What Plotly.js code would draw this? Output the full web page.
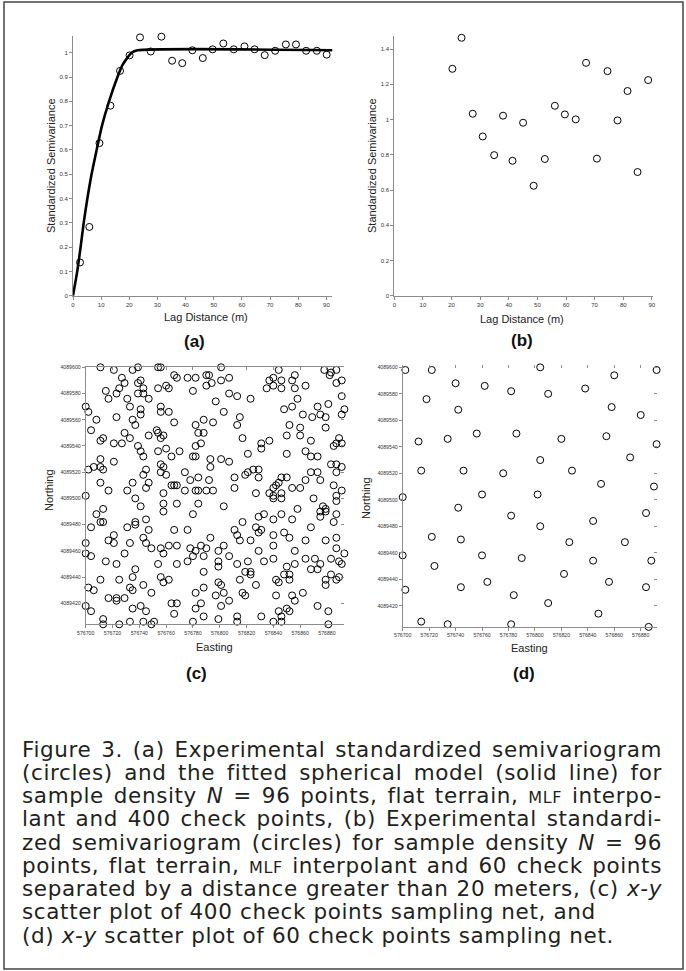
<!DOCTYPE html>
<html><head><meta charset="utf-8">
<script src="https://cdn.plot.ly/plotly-3.0.1.min.js"></script>
<style>html,body{margin:0;padding:0;background:#fff}#chart{width:686px;height:971px}</style>
</head><body><div id="chart"></div>
<script>
// ---------- data ----------
const lagA = [2.5,5.8,9.4,13.3,16.7,20.1,23.8,27.6,31.4,35.2,38.8,42.4,46.1,49.6,53.4,57.1,60.9,64.5,68.1,71.8,75.6,79.2,82.8,86.6,90.1];
const gammaA = [0.137,0.283,0.628,0.782,0.925,0.989,1.063,1.005,1.066,0.967,0.957,1.010,0.978,1.014,1.038,1.014,1.026,1.014,0.990,1.008,1.034,1.034,1.008,1.008,0.992];
const modelLag = [0,1.5,2.7,3.8,5.1,6.6,8.4,10.3,12.8,15.8,17.6,20.8,22.9,92.3];
const modelGamma = [0,0.1,0.2,0.3,0.4,0.5,0.6,0.7,0.8,0.9,0.95,1.0,1.01,1.01];
const lagB = [20.3,23.5,27.4,30.9,34.9,38.0,41.3,45.0,48.7,52.6,56.1,59.6,63.4,67.0,70.8,74.5,78.0,81.5,85.0,88.7];
const gammaB = [1.288,1.464,1.033,0.904,0.798,1.022,0.766,0.982,0.624,0.776,1.078,1.029,1.001,1.322,0.778,1.275,0.995,1.162,0.702,1.224];
const eastingC = [576711,576721,576735,576739,576754,576756,576766,576768,576776,576782,576790,576792,576727,576729,576725,576715,576717,576723,576731,576741,576739,576743,576739,576743,576747,576754,576760,576762,576780,576790,576794,576700,576702,576733,576741,576741,576756,576756,576762,576723,576708,576735,576737,576766,576782,576788,576704,576729,576733,576747,576753,576754,576756,576758,576784,576788,576711,576713,576721,576727,576739,576741,576743,576754,576760,576770,576764,576780,576782,576786,576782,576793,576711,576721,576702,576706,576711,576713,576745,576743,576756,576758,576756,576760,576774,576778,576784,576792,576793,576711,576735,576747,576745,576764,576766,576768,576717,576731,576774,576782,576784,576790,
576801,576844,576878,576882,576883,576887,576837,576840,576846,576854,576856,576840,576846,576835,576856,576864,576887,576891,576801,576807,576807,576813,576823,576858,576854,576848,576797,576803,576873,576881,576891,576893,576891,576862,576869,576875,576879,576795,576813,576815,576852,576860,576879,576860,576850,576868,576889,576887,576885,576891,576817,576831,576837,576831,576821,576850,576864,576868,576873,576801,576807,576883,576887,576891,576868,576873,576875,576887,576819,576821,576825,576829,576829,576811,576846,576850,576844,576864,576885,576795,576811,576840,576842,576854,576860,576891,
576700,576737,576741,576758,576758,576758,576768,576784,576780,576713,576708,576711,576713,576704,576731,576737,576737,576745,576747,576700,576700,576704,576717,576721,576721,576733,576743,576745,576749,576729,576756,576758,576762,576768,576766,576776,576778,576782,576786,576790,576788,576793,576715,576723,576754,576768,576776,576780,576737,576711,576725,576735,576756,576758,576762,576743,576733,576735,576749,576788,576788,576782,576702,576706,576717,576723,576723,576729,576741,576745,576735,576764,576768,576766,576782,576786,576788,576700,576704,576713,576713,576725,576733,576743,576749,576751,576780,
576827,576837,576840,576840,576846,576846,576870,576887,576887,576803,576829,576833,576840,576846,576854,576858,576877,576875,576879,576879,576875,576887,576885,576817,576868,576811,576813,576815,576827,576829,576831,576823,576840,576848,576852,576840,576864,576803,576799,576807,576799,576799,576813,576821,576833,576829,576840,576856,576856,576850,576848,576852,576852,576842,576844,576864,576871,576875,576868,576873,576879,576887,576887,576883,576889,576891,576893,576883,576879,576879,576887,576889,576819,576823,576823,576815,576827,576799,576801,576803,576807,576797,576801,576817,576819,576842,576854,576856,576862,576850,576852,576844,576873,576881,576799,576813,576813,576831,576840,576846,576846,576881];
const northingC = [4089600,4089598,4089598,4089600,4089600,4089600,4089594,4089592,4089592,4089592,4089594,4089594,4089592,4089588,4089584,4089582,4089576,4089580,4089576,4089590,4089588,4089584,4089580,4089580,4089576,4089584,4089586,4089584,4089582,4089586,4089588,4089570,4089566,4089570,4089568,4089564,4089570,4089566,4089566,4089562,4089560,4089560,4089556,4089558,4089556,4089560,4089552,4089550,4089546,4089548,4089552,4089550,4089546,4089548,4089550,4089550,4089544,4089546,4089542,4089542,4089540,4089536,4089532,4089536,4089538,4089536,4089532,4089532,4089532,4089542,4089540,4089530,4089530,4089528,4089522,4089524,4089524,4089522,4089522,4089518,4089526,4089524,4089520,4089518,4089520,4089514,4089516,4089514,4089524,4089512,4089512,4089512,4089508,4089510,4089510,4089510,4089506,4089506,4089506,4089506,4089506,4089506,
4089600,4089598,4089598,4089594,4089596,4089598,4089590,4089592,4089590,4089590,4089594,4089586,4089584,4089584,4089584,4089586,4089588,4089590,4089590,4089592,4089580,4089578,4089576,4089576,4089570,4089568,4089574,4089566,4089570,4089572,4089578,4089568,4089564,4089564,4089562,4089564,4089562,4089558,4089556,4089562,4089556,4089554,4089554,4089548,4089548,4089544,4089546,4089542,4089540,4089542,4089546,4089542,4089544,4089538,4089534,4089534,4089536,4089532,4089532,4089530,4089528,4089526,4089526,4089524,4089520,4089520,4089514,4089520,4089518,4089520,4089522,4089522,4089516,4089516,4089516,4089516,4089512,4089514,4089510,4089506,4089508,4089508,4089510,4089508,4089508,4089506,
4089502,4089500,4089494,4089504,4089496,4089490,4089496,4089496,4089488,4089492,4089488,4089482,4089482,4089478,4089478,4089482,4089480,4089484,4089476,4089466,4089458,4089456,4089468,4089472,4089466,4089466,4089470,4089466,4089462,4089458,4089462,4089458,4089464,4089464,4089476,4089476,4089462,4089460,4089464,4089462,4089456,4089470,4089452,4089450,4089450,4089450,4089452,4089456,4089446,4089438,4089438,4089440,4089440,4089436,4089438,4089434,4089432,4089430,4089428,4089444,4089432,4089428,4089432,4089430,4089424,4089424,4089422,4089424,4089418,4089414,4089416,4089420,4089420,4089412,4089416,4089420,4089410,4089418,4089414,4089408,4089404,4089404,4089406,4089406,4089404,4089406,4089406,
4089504,4089504,4089502,4089500,4089504,4089500,4089500,4089502,4089498,4089494,4089486,4089488,4089484,4089488,4089484,4089492,4089494,4089490,4089492,4089490,4089486,4089488,4089482,4089482,4089478,4089476,4089472,4089468,4089478,4089474,4089476,4089468,4089472,4089474,4089470,4089464,4089468,4089464,4089460,4089456,4089452,4089448,4089450,4089452,4089452,4089460,4089454,4089460,4089450,4089448,4089442,4089442,4089438,4089438,4089436,4089454,4089454,4089450,4089446,4089446,4089468,4089470,4089462,4089454,4089452,4089450,4089458,4089442,4089438,4089434,4089438,4089440,4089444,4089444,4089442,4089438,4089434,4089436,4089434,4089428,4089422,4089426,4089418,4089428,4089426,4089426,4089426,4089422,4089428,4089416,4089414,4089414,4089418,4089414,4089408,4089410,4089406,4089410,4089406,4089410,4089406,4089404];
const eastingD = [576702,576722,576804,576892,576740,576762,576782,576810,576838,576860,576718,576742,576858,576880,576712,576734,576756,576786,576820,576854,576892,576804,576872,576714,576746,576776,576828,576850,576890,576700,576760,576802,576742,576782,576844,576884,576804,576722,576744,576826,576868,576700,576760,576790,576844,576888,576724,576822,576702,576744,576764,576856,576884,576784,576810,576848,576714,576734,576782,576886];
const northingD = [4089598,4089598,4089600,4089598,4089588,4089586,4089582,4089580,4089584,4089594,4089576,4089568,4089570,4089564,4089544,4089546,4089550,4089550,4089546,4089548,4089542,4089530,4089532,4089522,4089522,4089520,4089522,4089512,4089510,4089502,4089504,4089504,4089494,4089488,4089484,4089490,4089480,4089472,4089470,4089468,4089468,4089458,4089458,4089456,4089454,4089454,4089450,4089444,4089432,4089434,4089438,4089438,4089434,4089428,4089422,4089414,4089408,4089406,4089406,4089404];
const lagTicks = [0,10,20,30,40,50,60,70,80,90];
const gammaTicksA = [0,0.1,0.2,0.3,0.4,0.5,0.6,0.7,0.8,0.9,1];
const gammaLabelsA = ['0','0.1','0.2','0.3','0.4','0.5','0.6','0.7','0.8','0.9','1'];
const gammaTicksB = [0,0.2,0.4,0.6,0.8,1,1.2,1.4];
const gammaLabelsB = ['0','0.2','0.4','0.6','0.8','1','1.2','1.4'];
const eastTicks = [576700,576720,576740,576760,576780,576800,576820,576840,576860,576880];
const northTicks = [4089420,4089440,4089460,4089480,4089500,4089520,4089540,4089560,4089580,4089600];
const captionLines = [
 "Figure 3. (a) Experimental standardized semivariogram",
 "(circles) and the fitted spherical model (solid line) for",
 "sample density <i>N</i> = 96 points, flat terrain, <span style='font-size:16px'>MLF</span> interpo-",
 "lant and 400 check points, (b) Experimental standardi-",
 "zed semivariogram (circles) for sample density <i>N</i> = 96",
 "points, flat terrain, <span style='font-size:16px'>MLF</span> interpolant and 60 check points",
 "separated by a distance greater than 20 meters, (c) <i>x-y</i>",
 "scatter plot of 400 check points sampling net, and",
 "(d) <i>x-y</i> scatter plot of 60 check points sampling net."
];

// ---------- layout helpers ----------
const W = 686, H = 971;
const fx = p => p / W, fy = p => 1 - p / H;
const F = 'Liberation Sans, Arial, sans-serif';
const FC = 'DejaVu Sans, sans-serif';
const GREY = '#8c8c8c';
const mk = {symbol:'circle-open', size:7, color:'#000', line:{width:1, color:'#000'}};
const base = {showline:true, linecolor:GREY, linewidth:1, ticks:'outside', ticklen:3, tickwidth:1,
  tickcolor:GREY, showgrid:false, zeroline:false, fixedrange:true, tickfont:{family:F, size:6, color:'#333'}};
const mirror = {showline:false, ticks:'inside', ticklen:3, tickwidth:1, tickcolor:GREY,
  showticklabels:false, showgrid:false, zeroline:false, fixedrange:true};

const traces = [
  {type:'scatter', mode:'lines', x:modelLag, y:modelGamma, line:{color:'#000', width:2.6, shape:'spline', smoothing:0.6}, xaxis:'x', yaxis:'y', hoverinfo:'skip'},
  {type:'scatter', mode:'markers', x:lagA, y:gammaA, marker:mk, xaxis:'x', yaxis:'y', cliponaxis:false},
  {type:'scatter', mode:'markers', x:lagB, y:gammaB, marker:mk, xaxis:'x2', yaxis:'y2', cliponaxis:false},
  {type:'scatter', mode:'markers', x:eastingC, y:northingC, marker:mk, xaxis:'x3', yaxis:'y3', cliponaxis:false},
  {type:'scatter', mode:'markers', x:eastingD, y:northingD, marker:mk, xaxis:'x4', yaxis:'y4', cliponaxis:false},
  {type:'scatter', x:[], y:[], xaxis:'x5', yaxis:'y5', hoverinfo:'skip'},
  {type:'scatter', x:[], y:[], xaxis:'x6', yaxis:'y6', hoverinfo:'skip'}
];

const ann = [];
const txt = (x, y, text, opts) => ann.push(Object.assign({xref:'paper', yref:'paper', x:fx(x), y:fy(y), text,
  showarrow:false, xanchor:'center', yanchor:'middle', font:{family:F, size:11, color:'#222'}}, opts || {}));
txt(51, 166, 'Standardized Semivariance', {textangle:-90});
txt(206, 317, 'Lag Distance (m)');
txt(372, 166, 'Standardized Semivariance', {textangle:-90});
txt(522, 319, 'Lag Distance (m)');
txt(194, 341, '(a)', {font:{family:F, size:17, color:'#111', weight:'bold'}});
txt(522, 340, '(b)', {font:{family:F, size:17, color:'#111', weight:'bold'}});
txt(49, 490, 'Northing', {textangle:-90});
txt(214, 647, 'Easting');
txt(366, 498, 'Northing', {textangle:-90});
txt(529, 648, 'Easting');
txt(196, 673, '(c)', {font:{family:F, size:17, color:'#111', weight:'bold'}});
txt(524, 673, '(d)', {font:{family:F, size:17, color:'#111', weight:'bold'}});
const capStart = ann.length;
captionLines.forEach((s, i) => txt(20, 749 + i * 23.25, s, {xanchor:'left', align:'left', font:{family:FC, size:21.5, color:'#231f20'}}));

const layout = {
  width:W, height:H, margin:{l:0, r:0, t:0, b:0}, paper_bgcolor:'#fff', plot_bgcolor:'rgba(0,0,0,0)',
  showlegend:false, annotations:ann,
  xaxis: Object.assign({}, base, {domain:[fx(73), fx(332.3)], range:[0, 92.1], anchor:'y', tickvals:lagTicks}),
  yaxis: Object.assign({}, base, {domain:[fy(295.7), fy(35.7)], range:[0, 1.07], anchor:'x', tickvals:gammaTicksA, ticktext:gammaLabelsA}),
  xaxis2: Object.assign({}, base, {domain:[fx(394.3), fx(653.3)], range:[0, 90.5], anchor:'y2', tickvals:lagTicks}),
  yaxis2: Object.assign({}, base, {domain:[fy(295.7), fy(35.7)], range:[0, 1.476], anchor:'x2', tickvals:gammaTicksB, ticktext:gammaLabelsB}),
  xaxis3: Object.assign({}, base, {domain:[fx(85.7), fx(344.4)], range:[576700, 576893], anchor:'y3', tickvals:eastTicks, tickformat:'d', tickfont:{family:F, size:5.2, color:'#333'}}),
  yaxis3: Object.assign({}, base, {domain:[fy(624.3), fy(367.3)], range:[4089404, 4089600], anchor:'x3', tickvals:northTicks, tickformat:'d', tickfont:{family:F, size:5.2, color:'#333'}}),
  xaxis4: Object.assign({}, base, {domain:[fx(402.7), fx(656.6)], range:[576700, 576892], anchor:'y4', tickvals:eastTicks, tickformat:'d', tickfont:{family:F, size:5.2, color:'#333'}}),
  yaxis4: Object.assign({}, base, {domain:[fy(626.9), fy(364.7)], range:[4089404, 4089602], anchor:'x4', tickvals:northTicks, tickformat:'d', tickfont:{family:F, size:5.2, color:'#333'}}),
  xaxis5: Object.assign({}, mirror, {overlaying:'x3', side:'top', anchor:'y5', range:[576700, 576893], tickvals:eastTicks, showline:true, linecolor:GREY, linewidth:1}),
  yaxis5: Object.assign({}, mirror, {overlaying:'y3', side:'right', anchor:'x5', range:[4089404, 4089600], tickvals:northTicks}),
  xaxis6: Object.assign({}, mirror, {overlaying:'x4', side:'top', anchor:'y6', range:[576700, 576892], tickvals:eastTicks}),
  yaxis6: Object.assign({}, mirror, {overlaying:'y4', side:'right', anchor:'x6', range:[4089404, 4089602], tickvals:northTicks}),
  shapes:[{type:'rect', xref:'paper', yref:'paper', x0:fx(4), x1:fx(683), y0:fy(969), y1:fy(2), line:{color:'#444', width:1.5}}]
};

// caption: justify the first seven lines like the printed original
const CAP_FULL = 640, CAP_LAST = 592;
Plotly.newPlot('chart', traces, layout, {staticPlot:true, displayModeBar:false}).then(() => {
  const els = captionLines.map((_, i) =>
    document.querySelector('g.annotation[data-index="' + (capStart + i) + '"] text.annotation-text'));
  const last = els[els.length - 1];
  if (!last) return;
  const ls = (CAP_LAST - last.getBBox().width) / Math.max(1, last.textContent.length);
  els.forEach((el, i) => {
    if (!el) return;
    el.style.letterSpacing = ls + 'px';
    if (i < 7) {
      const w = el.getBBox().width;
      const n = (el.textContent.match(/ /g) || []).length;
      if (n) el.style.wordSpacing = ((CAP_FULL - w) / n) + 'px';
    }
  });
});
</script></body></html>
